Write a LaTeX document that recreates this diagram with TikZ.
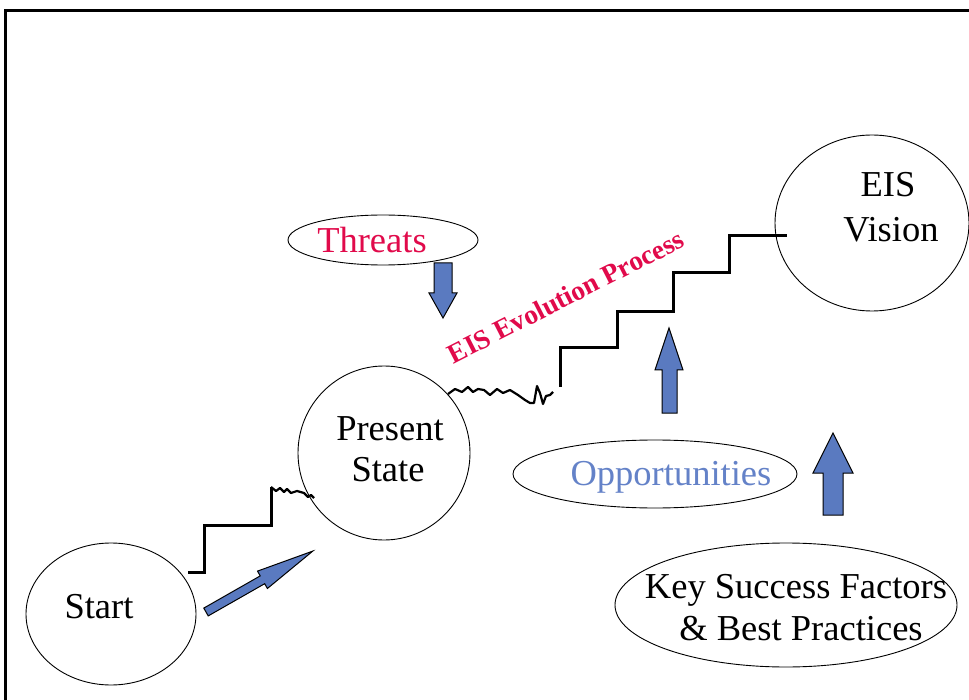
\documentclass[tikz,border=0pt]{standalone}
\usepackage{fontspec}
\setmainfont{Liberation Serif}
\usetikzlibrary{shapes.geometric}
\definecolor{threatred}{RGB}{225,10,75}
\definecolor{oppblue}{RGB}{100,130,200}
\definecolor{arrowblue}{RGB}{90,122,192}
\begin{document}
\begin{tikzpicture}[x=1pt,y=-1pt,
  oval/.style={draw, ellipse, line width=0.9pt, inner sep=0pt},
  lbl/.style={font=\fontsize{36.5}{40}\selectfont, inner sep=0pt, anchor=base},
  stair/.style={line width=3pt, line join=miter},
  jag/.style={line width=2.2pt, line join=round},
  blockarrow/.style={draw=black, fill=arrowblue, line width=1pt, line join=miter}]
\useasboundingbox (0,0) rectangle (969,700);
\fill[white] (0,0) rectangle (969,700);
% outer frame (right and bottom sides run off the page)
\draw[line width=3pt] (985,11) -- (5,11) -- (5,715);

% ovals
\node[oval, minimum width=170, minimum height=142] (start) at (111,614) {};
\node[oval, minimum width=172, minimum height=174] (present) at (384,453) {};
\node[oval, minimum width=194, minimum height=176] (vision) at (872,223) {};
\node[oval, minimum width=190, minimum height=50] (threats) at (383,240) {};
\node[oval, minimum width=284, minimum height=68] (opps) at (655,474) {};
\node[oval, minimum width=342, minimum height=124] (ksf) at (786,605) {};

% labels
\node[lbl] (tstart) at (99,618) {Start};
\node[lbl] (tpres1) at (390,440) {Present};
\node[lbl] (tpres2) at (388,481) {State};
\node[lbl] (tvis1) at (888,197) {EIS};
\node[lbl] (tvis2) at (891,242) {Vision};
\node[lbl, text=threatred] (tthreat) at (372,253) {Threats};
\node[lbl, text=oppblue] (topp) at (671,485) {Opportunities};
\node[lbl] (tksf1) at (796,598) {Key Success Factors};
\node[lbl] (tksf2) at (801,640) {\& Best Practices};
\node[inner sep=0pt, anchor=base, rotate=27, text=threatred,
      font=\fontsize{27.5}{30}\selectfont\bfseries] (tproc) at (570,305) {EIS Evolution Process};

% lower staircase from Start up to Present State
\coordinate (s1a) at (188,572);
\coordinate (s1b) at (271,487);
\coordinate (s1c) at (314,498);
\draw[stair] (s1a) -- (204,572) -- (204,525) -- (271,525) -- (s1b);
\draw[jag] (s1b) -- (276,491) -- (280,488) -- (284,492) -- (287,489) -- (291,493)
  -- (297,491) -- (304,493) -- (308,497) -- (311,495) -- (s1c);

% rough path leaving Present State
\coordinate (w1) at (448,394);
\coordinate (w2) at (553,392);
\draw[jag] (w1) -- (455,389) -- (462,392) -- (468,387) -- (473,392) -- (478,389)
  -- (484,390) -- (490,395) -- (497,389) -- (503,393) -- (510,390) -- (518,395)
  -- (525,400) -- (530,403) -- (534,403) -- (537,386) -- (540,393) -- (543,404)
  -- (546,396) -- (550,395) -- (w2);

% upper staircase to EIS Vision
\coordinate (s2a) at (560,387);
\coordinate (s2b) at (787,236);
\draw[stair] (s2a) -- (560,348) -- (617,348) -- (617,312) -- (673,312)
  -- (673,273) -- (729,273) -- (729,236) -- (s2b);

% block arrows
\draw[blockarrow] (434,263) -- (452,263) -- (452,293) -- (457,293) -- (443,318)
  -- (429,293) -- (434,293) -- cycle;
\draw[blockarrow] (662,413) -- (677,413) -- (677,370) -- (683,370) -- (669,328)
  -- (655,370) -- (662,370) -- cycle;
\draw[blockarrow] (823,515) -- (843,515) -- (843,473) -- (853,473) -- (833,433)
  -- (813,473) -- (823,473) -- cycle;
\begin{scope}[shift={(206,612)}, rotate=29.7]
  \draw[blockarrow] (0,-4.5) -- (65,-4.5) -- (65,-10) -- (123,0) -- (65,10)
    -- (65,4.5) -- (0,4.5) -- cycle;
\end{scope}
\end{tikzpicture}
\end{document}
